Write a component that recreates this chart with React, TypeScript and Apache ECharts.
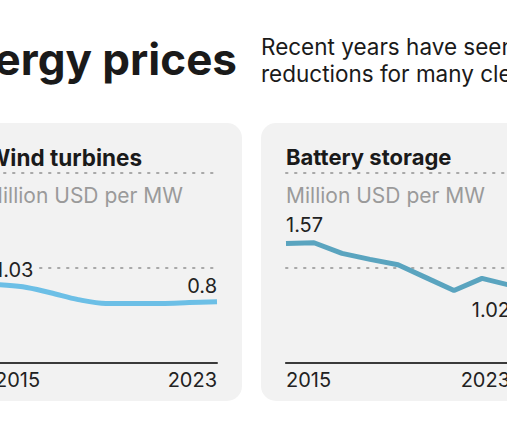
import React, { useEffect, useRef } from "react";
import * as echarts from "echarts";

const years = ["2015", "2016", "2017", "2018", "2019", "2020", "2021", "2022", "2023"];
const windValues = [1.03, 1.0, 0.92, 0.83, 0.78, 0.78, 0.78, 0.79, 0.8];
const batteryValues = [1.57, 1.58, 1.44, 1.36, 1.29, 1.12, 0.95, 1.11, 1.02];
const yMin = 0;
const yMax = 2.5;
const yInterval = 1.25;

const FONT = "Inter, 'Noto Sans', sans-serif";
const CARD = "#f2f2f2";
const INK = "#222222";
const SHIFT = 40; // chart canvas extends this far beyond the visible page on each side

type LabelCfg = { position: string; distance: number; align: string; bg?: boolean };

function buildData(values: number[], first: LabelCfg, last: LabelCfg) {
  return values.map((v, i) => {
    const cfg = i === 0 ? first : i === values.length - 1 ? last : null;
    if (!cfg) return v;
    return {
      value: v,
      label: {
        show: true,
        position: cfg.position,
        distance: cfg.distance,
        align: cfg.align,
        fontSize: 20,
        fontFamily: FONT,
        color: INK,
        formatter: String(v),
        ...(cfg.bg ? { backgroundColor: CARD, padding: [0, 5, 0, 0] } : {}),
      },
    };
  });
}

export default function App() {
  const ref = useRef<HTMLDivElement>(null);
  useEffect(() => {
    document.body.style.margin = "0";
    const chart = echarts.init(ref.current!, undefined, { renderer: "svg" });
    const xAxisBase = (gridIndex: number) => ({
      type: "category",
      gridIndex,
      data: years,
      boundaryGap: false,
      axisLine: { show: true, lineStyle: { color: "#3a3a3a", width: 2 } },
      axisTick: { show: false },
      axisLabel: {
        interval: 7,
        margin: 7,
        fontSize: 20,
        fontFamily: FONT,
        color: INK,
        alignMinLabel: "left",
        alignMaxLabel: "right",
      },
    });
    const yAxisBase = (gridIndex: number) => ({
      type: "value",
      gridIndex,
      min: yMin,
      max: yMax,
      interval: yInterval,
      axisLine: { show: false },
      axisTick: { show: false },
      axisLabel: { show: false },
      splitLine: {
        show: true,
        lineStyle: { color: "#a8a8a8", width: 2, type: [1.5, 7.5], cap: "round" },
      },
    });
    const X = (x: number) => x + SHIFT;
    chart.setOption({
      animation: false,
      backgroundColor: "#ffffff",
      grid: [
        { left: X(-5), top: 173, width: 222, height: 189.5 },
        { left: X(286), top: 173, width: 224, height: 189.5 },
      ],
      xAxis: [xAxisBase(0), xAxisBase(1)],
      yAxis: [yAxisBase(0), yAxisBase(1)],
      series: [
        {
          type: "line",
          xAxisIndex: 0,
          yAxisIndex: 0,
          smooth: 0.35,
          symbolSize: 0,
          showSymbol: true,
          lineStyle: { color: "#6cbfe6", width: 5 },
          itemStyle: { color: "#6cbfe6" },
          data: buildData(
            windValues,
            { position: "top", distance: 4.5, align: "left", bg: true },
            { position: "top", distance: 6, align: "right" }
          ),
        },
        {
          type: "line",
          xAxisIndex: 1,
          yAxisIndex: 1,
          symbolSize: 0,
          showSymbol: true,
          lineStyle: { color: "#5aa4bf", width: 5 },
          itemStyle: { color: "#5aa4bf" },
          data: buildData(
            batteryValues,
            { position: "top", distance: 8.5, align: "left" },
            { position: "bottom", distance: 15, align: "right" }
          ),
        },
      ],
      graphic: [
        { type: "rect", z: -10, shape: { x: X(-40), y: 123, width: 282, height: 278, r: 15 }, style: { fill: CARD } },
        { type: "rect", z: -10, shape: { x: X(261), y: 123, width: 300, height: 278, r: 15 }, style: { fill: CARD } },
        {
          type: "text",
          x: X(237),
          y: 59,
          style: { text: "ergy prices", fontSize: 44, fontWeight: "bold", fontFamily: FONT, fill: "#1a1a1a", align: "right", verticalAlign: "middle" },
        },
        {
          type: "text",
          x: X(261),
          y: 46,
          style: { text: "Recent years have seen", fontSize: 22.5, fontFamily: FONT, fill: "#1a1a1a", align: "left", verticalAlign: "middle" },
        },
        {
          type: "text",
          x: X(261),
          y: 73,
          style: { text: "reductions for many clean", fontSize: 22.5, fontFamily: FONT, fill: "#1a1a1a", align: "left", verticalAlign: "middle" },
        },
        {
          type: "text",
          x: X(142),
          y: 157,
          style: { text: "Wind turbines", fontSize: 22.5, fontWeight: "bold", fontFamily: FONT, fill: "#1a1a1a", align: "right", verticalAlign: "middle" },
        },
        {
          type: "text",
          x: X(286),
          y: 157,
          style: { text: "Battery storage", fontSize: 22, fontWeight: "bold", fontFamily: FONT, fill: "#1a1a1a", align: "left", verticalAlign: "middle" },
        },
        {
          type: "text",
          x: X(183),
          y: 195,
          style: { text: "Million USD per MW", fontSize: 21, fontFamily: FONT, fill: "#9a9a9a", align: "right", verticalAlign: "middle" },
        },
        {
          type: "text",
          x: X(286),
          y: 195,
          style: { text: "Million USD per MW", fontSize: 21, fontFamily: FONT, fill: "#9a9a9a", align: "left", verticalAlign: "middle" },
        },
      ],
    });
    return () => chart.dispose();
  }, []);
  return (
    <div style={{ width: 507, height: 423, overflow: "hidden", position: "relative" }}>
      <div ref={ref} style={{ position: "absolute", left: -SHIFT, top: 0, width: 507 + 2 * SHIFT, height: 423 }} />
    </div>
  );
}
